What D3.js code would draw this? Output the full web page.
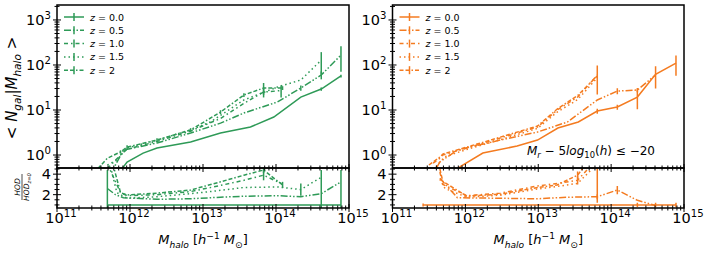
<!DOCTYPE html>
<html lang="en">
<meta charset="utf-8">
<style>
body { margin: 0; background: #fff; }
text { font-family: "DejaVu Sans", sans-serif; fill: #000; }
</style>
<script src="https://d3js.org/d3.v7.min.js"></script>
<body>
<script>

// ---- data: log10 halo mass, <N_gal|M_halo>, error, HOD/HOD_z=0 ratio, ratio error ----
var zLabels = ["0.0", "0.5", "1.0", "1.5", "2"];

// green panel
var gMass0 = [11.69, 11.82, 11.96, 12.18, 12.37, 12.83, 13.24, 13.65, 13.97, 14.34, 14.62, 14.89];
var gN0    = [0.15, 0.35, 0.70, 1.10, 1.43, 1.95, 3.08, 4.19, 6.98, 19.4, 29.2, 57];
var gErr0  = [0, 0, 0, 0, 0, 0, 0, 0, 0, 0, 2.5, 4];
var gRat0  = [1, 1, 1, 1, 1, 1, 1, 1, 1, 1, 1, 1];
var gRErr0 = [3.4, 0, 0, 0, 0, 0, 0, 0, 0, 0, 3.4, 3.4];

var gMass05 = [11.69, 11.80, 11.91, 12.37, 12.83, 13.24, 13.56, 14.02, 14.34, 14.62, 14.89];
var gN05    = [0.35, 0.6, 1.29, 1.85, 3.08, 5.1, 8.58, 15.06, 30.8, 60, 166];
var gErr05  = [0, 0, 0, 0, 0, 0, 0, 0, 4, 12, 95];
var gRat05  = [2.6, 2.0, 1.7, 1.55, 1.6, 1.75, 1.85, 1.9, 1.8, 2.1, 3.25];
var gRErr05 = [0, 0, 0, 0, 0, 0, 0, 0, 0, 0, 0];

var gMass10 = [11.69, 11.87, 11.96, 12.37, 12.83, 13.24, 13.56, 13.83, 14.07];
var gN10    = [0.5, 1.0, 1.35, 2.0, 3.4, 6.5, 14, 25, 27];
var gErr10  = [0, 0, 0, 0, 0, 0, 0, 6, 8];
var gRat10  = [5.0, 2.2, 1.9, 2.0, 2.3, 2.9, 3.4, 3.9, 3.1];
var gRErr10 = [0, 0, 0, 0, 0, 0, 0, 0.5, 0];

var gMass15 = [11.69, 11.82, 11.96, 12.37, 12.83, 13.10, 13.56, 14.02, 14.34, 14.62];
var gN15    = [0.6, 0.77, 1.43, 2.15, 3.6, 5.4, 16.7, 32.4, 46.4, 128];
var gErr15  = [0, 0, 0, 0, 0, 0, 0, 0, 0, 65];
var gRat15  = [6, 2.2, 1.65, 1.8, 2.1, 2.3, 2.7, 2.75, 2.5, 3.7];
var gRErr15 = [0, 0, 0, 0, 0, 0, 0, 0, 0.6, 0];

var gMass20 = [11.56, 11.69, 11.87, 11.96, 12.37, 12.83, 13.24, 13.56, 13.83, 14.09];
var gN20    = [0.5, 0.85, 1.17, 1.5, 2.15, 3.6, 9, 21.5, 30.8, 30.8];
var gErr20  = [0, 0, 0.1, 0.15, 0.2, 0.35, 0.9, 2, 9, 3];
var gRat20  = [null, 7, 2.2, 1.97, 2.15, 2.45, 3.25, 3.9, 4.4, 2.95];
var gRErr20 = [0, 0, 0, 0, 0, 0, 0, 0, 0.3, 0.3];

// orange panel
var oMass0 = [11.42, 11.65, 11.93, 12.24, 12.71, 12.99, 13.27, 13.55, 13.81, 14.085, 14.36, 14.61, 14.89];
var oN0    = [0.05, 0.2, 0.55, 1.108, 1.585, 2.15, 3.98, 5.41, 9.5, 11.66, 19.4, 62, 110];
var oErr0  = [0, 0, 0, 0, 0, 0, 0, 0, 1.2, 1.5, 9, 32, 52];
var oRat0  = [1, 1, 1, 1, 1, 1, 1, 1, 1, 1, 1, 1, 1];
var oRErr0 = [0.15, 0, 0, 0, 0, 0, 0, 0, 0, 0, 0.2, 0.2, 0.2];

var oMass05 = [11.61, 11.65, 11.89, 12.48, 12.99, 13.40, 13.81, 14.085, 14.36, 14.61];
var oN05    = [0.54, 0.7, 1.29, 2.15, 3.24, 5.41, 16.7, 26.3, 27.8, 60];
var oErr05  = [0, 0, 0, 0, 0, 0, 0, 4, 3, 0];
var oRat05  = [null, 3.6, 1.7, 1.65, 1.6, 1.75, 1.8, 2.45, 1.45, 0.95];
var oRErr05 = [0, 0, 0, 0, 0, 0, 0.25, 0.4, 0, 0];

var oMass10 = [11.557, 11.65, 11.69, 12.02, 12.48, 12.99, 13.26, 13.54, 13.81];
var oN10    = [0.66, 0.85, 1.0, 1.43, 2.39, 4.19, 10, 19.4, 60];
var oErr10  = [0, 0, 0, 0, 0, 0, 0, 0, 38];
var oRat10  = [null, 4.2, 3.0, 1.9, 2.15, 2.85, 3.1, 3.4, 5.5];
var oRErr10 = [0, 0, 0, 0, 0, 0, 0, 0.4, 0];

var oMass15 = [11.6, 11.65, 11.72, 12.02, 12.48, 12.99, 13.26, 13.54, 13.81];
var oN15    = [0.55, 0.7, 0.92, 1.33, 2.2, 3.9, 9, 17, 52];
var oErr15  = [0, 0, 0, 0, 0, 0, 0, 0, 0];
var oRat15  = [null, 3.5, 2.6, 1.75, 1.95, 2.55, 2.8, 3.1, 5.0];
var oRErr15 = [0, 0, 0, 0, 0, 0, 0, 0, 3.8];

var oMass20 = [11.5, 11.65, 11.69, 12.02, 12.48, 12.99, 13.26, 13.54, 13.81];
var oN20    = [0.6, 0.9, 1.05, 1.5, 2.5, 4.4, 10.5, 21, 57];
var oErr20  = [0, 0, 0, 0, 0, 0, 0, 0, 0];
var oRat20  = [null, 4.5, 3.3, 1.85, 2.05, 2.7, 2.95, 3.9, 6.5];
var oRErr20 = [0, 0, 0, 0, 0, 0, 0, 0.35, 0];

var massDecades = [11, 12, 13, 14, 15];
var hodDecades = [0, 1, 2, 3];
var ratioTicks = [2, 4];
var ratioMinor = [1, 1.5, 2.5, 3, 3.5, 4.5];

var dashes = [null, "7,2,1.5,2,1.5,2", "4,3,1.5,3", "1.5,3", "4,2,4,2,1.5,2"];

var width = 706, height = 255;
var topY0 = 5, midY = 168, botY1 = 208;

var svg = d3.select("body").append("svg")
    .attr("width", width)
    .attr("height", height);

// writes math-ish text: parts [{t, i, sub, sup}]
function rich(sel, parts, size) {
  var shift = 0;
  parts.forEach(function(p) {
    var s = p.sub ? 0.28 * size : p.sup ? -0.42 * size : 0;
    sel.append("tspan")
        .attr("dy", s - shift)
        .attr("font-size", (p.sub || p.sup) ? size * 0.7 : size)
        .attr("font-style", p.i ? "italic" : "normal")
        .text(p.t);
    shift = s;
  });
  return sel;
}

function makeCurves(ms, ns, es, rs, res) {
  return ms.map(function(m, k) {
    return ms[k].map(function(v, j) {
      return {m: Math.pow(10, v), n: ns[k][j], e: es[k][j], r: rs[k][j], re: res[k][j]};
    });
  });
}

var greenCurves = makeCurves(
  [gMass0, gMass05, gMass10, gMass15, gMass20],
  [gN0, gN05, gN10, gN15, gN20],
  [gErr0, gErr05, gErr10, gErr15, gErr20],
  [gRat0, gRat05, gRat10, gRat15, gRat20],
  [gRErr0, gRErr05, gRErr10, gRErr15, gRErr20]);

var orangeCurves = makeCurves(
  [oMass0, oMass05, oMass10, oMass15, oMass20],
  [oN0, oN05, oN10, oN15, oN20],
  [oErr0, oErr05, oErr10, oErr15, oErr20],
  [oRat0, oRat05, oRat10, oRat15, oRat20],
  [oRErr0, oRErr05, oRErr10, oRErr15, oRErr20]);

function drawPanel(id, x0, x1, color, curves, withLabels, note) {
  var x = d3.scaleLog().domain([1e11, 1e15]).range([x0, x1]);
  var yTop = d3.scaleLog().domain([0.515, 2150]).range([midY, topY0]);
  var yBot = d3.scaleLinear().domain([0.7, 4.6]).range([botY1, midY]);

  var g = svg.append("g");

  // clip paths
  var defs = svg.append("defs");
  defs.append("clipPath").attr("id", id + "t").append("rect")
      .attr("x", x0).attr("y", topY0).attr("width", x1 - x0).attr("height", midY - topY0);
  defs.append("clipPath").attr("id", id + "b").append("rect")
      .attr("x", x0).attr("y", midY).attr("width", x1 - x0).attr("height", botY1 - midY);

  var gt = g.append("g").attr("clip-path", "url(#" + id + "t)");
  var gb = g.append("g").attr("clip-path", "url(#" + id + "b)");

  var lineTop = d3.line().x(function(d) { return x(d.m); }).y(function(d) { return yTop(d.n); });
  var lineBot = d3.line()
      .defined(function(d) { return d.r != null; })
      .x(function(d) { return x(d.m); }).y(function(d) { return yBot(d.r); });

  curves.forEach(function(c, k) {
    gt.append("path").datum(c)
        .attr("d", lineTop)
        .attr("fill", "none").attr("stroke", color).attr("stroke-width", 1.5)
        .attr("stroke-dasharray", dashes[k]);
    gt.selectAll(null).data(c.filter(function(d) { return d.e > 0; }))
      .enter().append("line")
        .attr("x1", function(d) { return x(d.m); }).attr("x2", function(d) { return x(d.m); })
        .attr("y1", function(d) { return yTop(Math.max(d.n - d.e, 1e-3)); })
        .attr("y2", function(d) { return yTop(d.n + d.e); })
        .attr("stroke", color).attr("stroke-width", 1.5);

    gb.append("path").datum(c)
        .attr("d", lineBot)
        .attr("fill", "none").attr("stroke", color).attr("stroke-width", 1.5)
        .attr("stroke-dasharray", dashes[k]);
    gb.selectAll(null).data(c.filter(function(d) { return d.r != null && d.re > 0; }))
      .enter().append("line")
        .attr("x1", function(d) { return x(d.m); }).attr("x2", function(d) { return x(d.m); })
        .attr("y1", function(d) { return yBot(d.r - d.re); })
        .attr("y2", function(d) { return yBot(d.r + d.re); })
        .attr("stroke", color).attr("stroke-width", 1.5);
  });

  // frames
  g.append("rect").attr("x", x0).attr("y", topY0).attr("width", x1 - x0).attr("height", midY - topY0)
      .attr("fill", "none").attr("stroke", "#000").attr("stroke-width", 1.5);
  g.append("rect").attr("x", x0).attr("y", midY).attr("width", x1 - x0).attr("height", botY1 - midY)
      .attr("fill", "none").attr("stroke", "#000").attr("stroke-width", 1.5);

  // ticks (in-out)
  var tk = g.append("g").attr("stroke", "#000").attr("stroke-width", 1);
  var xMajor = massDecades.map(function(d) { return Math.pow(10, d); });
  var xMinor = [];
  massDecades.slice(0, -1).forEach(function(d) {
    for (var j = 2; j < 10; j++) xMinor.push(j * Math.pow(10, d));
  });
  [midY, botY1].forEach(function(yy) {
    tk.selectAll(null).data(xMajor).enter().append("line")
        .attr("x1", x).attr("x2", x).attr("y1", yy - 4).attr("y2", yy + 4);
    tk.selectAll(null).data(xMinor).enter().append("line")
        .attr("x1", x).attr("x2", x).attr("y1", yy - 2.5).attr("y2", yy + 2.5);
  });
  var yMajor = hodDecades.map(function(d) { return Math.pow(10, d); });
  var yMinor = [];
  [-1, 0, 1, 2, 3].forEach(function(d) {
    for (var j = 2; j < 10; j++) {
      var v = j * Math.pow(10, d);
      if (v > 0.515 && v < 2150) yMinor.push(v);
    }
  });
  tk.selectAll(null).data(yMajor).enter().append("line")
      .attr("x1", x0 - 4).attr("x2", x0 + 4).attr("y1", yTop).attr("y2", yTop);
  tk.selectAll(null).data(yMinor).enter().append("line")
      .attr("x1", x0 - 2.5).attr("x2", x0 + 2.5).attr("y1", yTop).attr("y2", yTop);
  tk.selectAll(null).data(ratioTicks).enter().append("line")
      .attr("x1", x0 - 4).attr("x2", x0 + 4).attr("y1", yBot).attr("y2", yBot);
  tk.selectAll(null).data(ratioMinor).enter().append("line")
      .attr("x1", x0 - 2.5).attr("x2", x0 + 2.5).attr("y1", yBot).attr("y2", yBot);

  // tick labels
  massDecades.forEach(function(d) {
    var t = g.append("text").attr("x", x(Math.pow(10, d)) + 4).attr("y", 223)
        .attr("text-anchor", "middle");
    rich(t, [{t: "10"}, {t: String(d), sup: true}], 14.5);
  });
  hodDecades.forEach(function(d) {
    var t = g.append("text").attr("x", x0 - 6).attr("y", yTop(Math.pow(10, d)) + 5)
        .attr("text-anchor", "end");
    rich(t, [{t: "10"}, {t: String(d), sup: true}], 14.5);
  });
  ratioTicks.forEach(function(v) {
    g.append("text").attr("x", x0 - 6).attr("y", yBot(v) + 5)
        .attr("text-anchor", "end").attr("font-size", 14.5).text(v);
  });

  // x label
  var xl = g.append("text").attr("x", (x0 + x1) / 2).attr("y", 244).attr("text-anchor", "middle");
  rich(xl, [{t: "M", i: true}, {t: "halo", i: true, sub: true}, {t: " [", i: false},
            {t: "h", i: true}, {t: "\u22121", sup: true}, {t: " M", i: true},
            {t: "\u2299", sub: true}, {t: "]"}], 13);

  // legend
  var lg = g.append("g");
  zLabels.forEach(function(z, k) {
    var yy = 17 + k * 13.3;
    lg.append("line").attr("x1", x0 + 7).attr("x2", x0 + 27).attr("y1", yy).attr("y2", yy)
        .attr("stroke", color).attr("stroke-width", 1.5).attr("stroke-dasharray", dashes[k]);
    lg.append("line").attr("x1", x0 + 17).attr("x2", x0 + 17).attr("y1", yy - 4).attr("y2", yy + 4)
        .attr("stroke", color).attr("stroke-width", 1.5);
    var t = lg.append("text").attr("x", x0 + 33).attr("y", yy + 3.5);
    rich(t, [{t: "z", i: true}, {t: " = " + z}], 9.5);
  });

  if (note) {
    var nt = g.append("text").attr("x", x1 - 29).attr("y", 155).attr("text-anchor", "end");
    rich(nt, note, 12);
  }
}

drawPanel("gp", 57, 349, "#2e9a57", greenCurves, true, null);
drawPanel("op", 392.5, 684, "#f47b20", orangeCurves, false, [
  {t: "M", i: true}, {t: "r", i: true, sub: true}, {t: " \u2212 5"}, {t: "log", i: true},
  {t: "10", sub: true}, {t: "("}, {t: "h", i: true}, {t: ")"}, {t: " \u2264 \u221220"}
]);

// y labels
var yl = svg.append("text").attr("transform", "translate(17,88) rotate(-90)").attr("text-anchor", "middle");
rich(yl, [{t: "< "}, {t: "N", i: true}, {t: "gal", i: true, sub: true}, {t: "|"},
          {t: "M", i: true}, {t: "halo", i: true, sub: true}, {t: " >"}], 15);

var fr = svg.append("g").attr("transform", "translate(22,187) rotate(-90)");
fr.append("text").attr("y", -2).attr("text-anchor", "middle").attr("font-size", 7.5)
    .attr("font-style", "italic").text("HOD");
fr.append("line").attr("x1", -13).attr("x2", 13).attr("y1", 0).attr("y2", 0)
    .attr("stroke", "#000").attr("stroke-width", 0.7);
var den = fr.append("text").attr("y", 7).attr("text-anchor", "middle");
rich(den, [{t: "HOD", i: true}, {t: "z=0", i: true, sub: true}], 7.5);

</script>
</body>
</html>
